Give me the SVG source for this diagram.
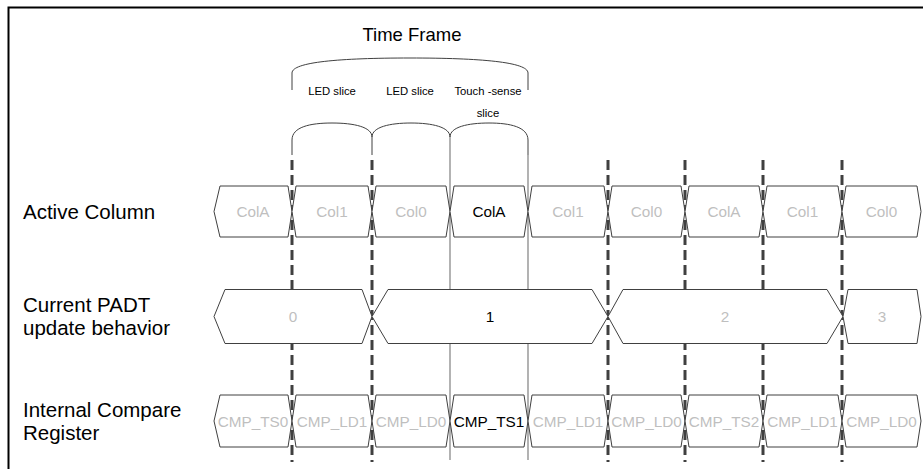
<svg xmlns="http://www.w3.org/2000/svg" width="923" height="469" viewBox="0 0 923 469">
<style>
text{font-family:"Liberation Sans",Arial,sans-serif}
.lbl{font-size:20.5px;fill:#000}
.hex{fill:#fff;stroke:#404040;stroke-width:1}
.v{font-size:15.3px;text-anchor:middle;fill:#bfbfbf}
.on{fill:#000}
.dash{stroke:#404040;stroke-width:3;stroke-dasharray:10 5;fill:none}
.solid{stroke:#808080;stroke-width:1.2;fill:none}
.brace{stroke:#404040;stroke-width:1;fill:none}
.sl{font-size:11.3px;text-anchor:middle;fill:#000}
</style>
<rect width="923" height="469" fill="#fff"/>
<path d="M8.5,469 V7.5 H923" fill="none" stroke="#000" stroke-width="2"/>

<g id="time-frame">
<text x="412" y="41" font-size="18.5" text-anchor="middle">Time Frame</text>
<path class="brace" d="M292,90 V73 C292,62 340,58 410,58 C480,58 528,62 528,73 V90"/>
<text class="sl" x="332" y="95">LED slice</text>
<text class="sl" x="410" y="95">LED slice</text>
<text class="sl" x="488" y="95">Touch -sense</text>
<text class="sl" x="488" y="117">slice</text>
<path class="brace" d="M292,155 V140 C292,127 310,123 332,123 C354,123 372,127 372,137 M372,137 C372,127 390,123 411,123 C432,123 450,127 450,137 M450,137 C450,127 468,123 489,123 C510,123 528,127 528,140 V155 M372,137 V155"/>
</g>

<g id="connectors">
<path class="solid" d="M450,137 V460 M528,155 V460"/>
<path class="dash" d="M292,160 V462 M372,160 V462 M608,160 V462 M685,160 V462 M763,160 V462 M842,160 V462"/>
</g>

<g id="row-labels">
<text class="lbl" x="23" y="219">Active Column</text>
<text class="lbl" x="23" y="312">Current PADT</text>
<text class="lbl" x="23" y="335">update behavior</text>
<text class="lbl" x="23" y="417">Internal Compare</text>
<text class="lbl" x="23" y="440">Register</text>
</g>

<g id="active-column">
<path class="hex" d="M214,211.5 L220,186 L288,186 L292,211.5 L288,237 L220,237 Z"/>
<path class="hex" d="M292,211.5 L296,186 L368,186 L372,211.5 L368,237 L296,237 Z"/>
<path class="hex" d="M372,211.5 L376,186 L446,186 L450,211.5 L446,237 L376,237 Z"/>
<path class="hex" d="M450,211.5 L454,186 L524,186 L528,211.5 L524,237 L454,237 Z"/>
<path class="hex" d="M528,211.5 L532,186 L604,186 L608,211.5 L604,237 L532,237 Z"/>
<path class="hex" d="M608,211.5 L612,186 L681,186 L685,211.5 L681,237 L612,237 Z"/>
<path class="hex" d="M685,211.5 L689,186 L759,186 L763,211.5 L759,237 L689,237 Z"/>
<path class="hex" d="M763,211.5 L767,186 L838,186 L842,211.5 L838,237 L767,237 Z"/>
<path class="hex" d="M842,211.5 L846,186 L917,186 L921,211.5 L917,237 L846,237 Z"/>
<text class="v" x="253" y="217">ColA</text>
<text class="v" x="332" y="217">Col1</text>
<text class="v" x="411" y="217">Col0</text>
<text class="v on" x="489" y="217">ColA</text>
<text class="v" x="568" y="217">Col1</text>
<text class="v" x="646.5" y="217">Col0</text>
<text class="v" x="724" y="217">ColA</text>
<text class="v" x="802.5" y="217">Col1</text>
<text class="v" x="881.5" y="217">Col0</text>
</g>

<g id="padt-behavior">
<path class="hex" d="M214,316.5 L225,289.5 L362,289.5 L372,316.5 L362,343.5 L225,343.5 Z"/>
<path class="hex" d="M372,316.5 L388,289.5 L592,289.5 L608,316.5 L592,343.5 L388,343.5 Z"/>
<path class="hex" d="M608,316.5 L623,289.5 L827,289.5 L843,316.5 L827,343.5 L623,343.5 Z"/>
<path class="hex" d="M843,316.5 L848,289.5 L917,289.5 L921,316.5 L917,343.5 L848,343.5 Z"/>
<text class="v" x="293" y="322">0</text>
<text class="v on" x="490" y="322">1</text>
<text class="v" x="725" y="322">2</text>
<text class="v" x="882" y="322">3</text>
</g>

<g id="compare-register">
<path class="hex" d="M214,421 L220,395 L288,395 L292,421 L288,447 L220,447 Z"/>
<path class="hex" d="M292,421 L296,395 L368,395 L372,421 L368,447 L296,447 Z"/>
<path class="hex" d="M372,421 L376,395 L446,395 L450,421 L446,447 L376,447 Z"/>
<path class="hex" d="M450,421 L454,395 L524,395 L528,421 L524,447 L454,447 Z"/>
<path class="hex" d="M528,421 L532,395 L604,395 L608,421 L604,447 L532,447 Z"/>
<path class="hex" d="M608,421 L612,395 L681,395 L685,421 L681,447 L612,447 Z"/>
<path class="hex" d="M685,421 L689,395 L759,395 L763,421 L759,447 L689,447 Z"/>
<path class="hex" d="M763,421 L767,395 L838,395 L842,421 L838,447 L767,447 Z"/>
<path class="hex" d="M842,421 L846,395 L917,395 L921,421 L917,447 L846,447 Z"/>
<text class="v" x="253" y="426.5">CMP_TS0</text>
<text class="v" x="332" y="426.5">CMP_LD1</text>
<text class="v" x="411" y="426.5">CMP_LD0</text>
<text class="v on" x="489" y="426.5">CMP_TS1</text>
<text class="v" x="568" y="426.5">CMP_LD1</text>
<text class="v" x="646.5" y="426.5">CMP_LD0</text>
<text class="v" x="724" y="426.5">CMP_TS2</text>
<text class="v" x="802.5" y="426.5">CMP_LD1</text>
<text class="v" x="881.5" y="426.5">CMP_LD0</text>
</g>
</svg>
